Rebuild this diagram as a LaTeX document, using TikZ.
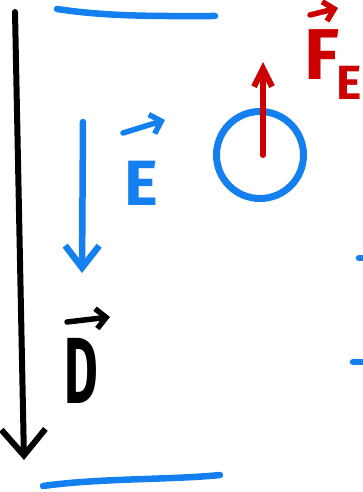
\documentclass[tikz,border=0pt]{standalone}
\usepackage{fontspec}
\setmainfont{Fira Sans}
\usetikzlibrary{positioning,arrows.meta}
\definecolor{fieldblue}{RGB}{20,128,240}
\definecolor{forcered}{RGB}{204,0,0}

\begin{document}
\begin{tikzpicture}[x=1pt, y=-1pt, line cap=round, line join=round,
    plate/.style={draw=fieldblue, line width=6.5pt},
    field/.style={draw=fieldblue, line width=6.5pt,
        -{Straight Barb[length=22pt, width=34pt]}},
    disp/.style={draw=black, line width=6pt,
        -{Straight Barb[length=26pt, width=44pt]}},
    force/.style={draw=forcered, line width=6pt,
        -{Straight Barb[length=18pt, width=18pt]}},
    vecbar/.style={line width=5.5pt, -{Straight Barb[length=10pt, width=20pt]}},
    lbl/.style={inner sep=0pt, anchor=base west, font=\bfseries},
    charge/.style={circle, draw=fieldblue, line width=7pt,
        minimum size=87pt, inner sep=0pt}]

% ── Canvas ───────────────────────────────────────────────────
\useasboundingbox (0,0) rectangle (362,492);

% ── Plates ───────────────────────────────────────────────────
\draw[plate] (57,9)  .. controls (110,17) and (160,16) .. (215,16);
\draw[plate] (43,486) .. controls (100,478) and (170,480) .. (220,475);

% ── Field and displacement arrows ────────────────────────────
\coordinate (Dtop) at (15,12);
\coordinate (Dtip) at (24,460);
\draw[disp] (Dtop) -- (Dtip);

\coordinate (Etop) at (83,122);
\coordinate (Etip) at (82,273);
\draw[field] (Etop) -- (Etip);

% ── Charge and force ─────────────────────────────────────────
\node[charge] (q) at (260,155) {};
\coordinate (Ftip) at (263,62);
\draw[force] ([xshift=3pt]q.center) -- (Ftip);

% ── Labels ───────────────────────────────────────────────────
\node[lbl, text=fieldblue] (Elbl) at (124,205)
    {\fontsize{64}{64}\selectfont E};
\draw[vecbar, draw=fieldblue] (123,133) -- (165,120);

\node[lbl, text=black] (Dlbl) at (64,403)
    {\fontsize{94}{94}\selectfont\scalebox{0.55}[1]{D}};
\draw[vecbar, draw=black] (67,322) -- (110,317);

\node[lbl, text=forcered] (Flbl) at (304,80)
    {\fontsize{72}{72}\selectfont F\kern-3pt\raisebox{-20pt}{\fontsize{48}{48}\selectfont E}};
\draw[vecbar, draw=forcered] (310,15) -- (338,8);

% ── Cut-off strokes at right edge ────────────────────────────
\draw[plate] (359,258) -- (364,258);
\draw[plate] (353,362) -- (364,362);

\end{tikzpicture}
\end{document}
